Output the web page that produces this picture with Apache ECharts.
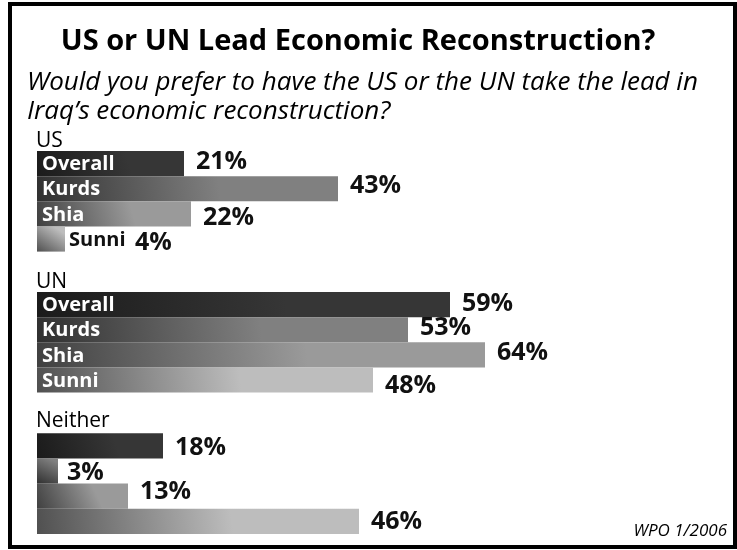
<!DOCTYPE html>
<html>
<head>
<meta charset="utf-8">
<script src="https://cdn.jsdelivr.net/npm/echarts@6/dist/echarts.min.js"></script>
<style>
html,body{margin:0;padding:0;background:#fff;}
#c{width:737px;height:550px;}
</style>
</head>
<body>
<div id="c"></div>
<script>
// ---- data ----
var groups = ['US', 'UN', 'Neither'];
var segments = ['Overall', 'Kurds', 'Shia', 'Sunni'];
var usValues = [21, 43, 22, 4];
var unValues = [59, 53, 64, 48];
var neitherValues = [18, 3, 13, 46];
var showSegmentNames = [true, true, false];
var title = 'US or UN Lead Economic Reconstruction?';
var subtitle1 = 'Would you prefer to have the US or the UN take the lead in';
var subtitle2 = 'Iraq\u2019s economic reconstruction?';
var sourceNote = 'WPO 1/2006';

// ---- styles ----
var FONT = "'Open Sans', sans-serif";
var segColors = [
  ['#1b1b1b', '#363636'],
  ['#303030', '#808080'],
  ['#404040', '#9a9a9a'],
  ['#505050', '#bdbdbd']
];
// small vertical nudges of value labels (px), per group / row
var labelNudge = [[-2, -3, 4, 4], [-1, -2, -2, 6], [2, 2, -4, 1]];
function grad(i) {
  return new echarts.graphic.LinearGradient(0, 1, 0.6, 0, [
    {offset: 0, color: segColors[i][0]},
    {offset: 1, color: segColors[i][1]}
  ]);
}
var allValues = [usValues, unValues, neitherValues];
var gridTops = [151, 292, 433.3];
var gridH = 100.6;

var grids = [], xAxes = [], yAxes = [], series = [];
allValues.forEach(function (vals, g) {
  grids.push({left: 37, top: gridTops[g], width: 704, height: gridH});
  xAxes.push({type: 'value', gridIndex: g, min: 0, max: 100, show: false});
  yAxes.push({type: 'category', gridIndex: g, data: segments, inverse: true, show: false});
  series.push({
    type: 'bar', xAxisIndex: g, yAxisIndex: g, barCategoryGap: '0%', barGap: '-100%',
    silent: true, animation: false,
    data: vals.map(function (v, i) {
      var small = v < 8;
      return {
        value: v,
        itemStyle: {color: grad(i)},
        label: {
          show: showSegmentNames[g],
          formatter: segments[i],
          position: small ? 'right' : 'insideLeft',
          distance: small ? 4 : 5,
          offset: [0, 1],
          color: small ? '#111' : '#fff',
          fontFamily: FONT, fontWeight: 'bold', fontSize: 20
        }
      };
    })
  });
  series.push({
    type: 'bar', xAxisIndex: g, yAxisIndex: g, barCategoryGap: '0%', barGap: '-100%',
    silent: true, animation: false,
    itemStyle: {color: 'rgba(0,0,0,0)'},
    data: vals.map(function (v, i) {
      var small = v < 8;
      return {
        value: v,
        label: {
          show: true,
          position: 'right',
          distance: (small && showSegmentNames[g]) ? 70 : (small ? 9 : 12),
          offset: [0, labelNudge[g][i]],
          formatter: v + '%',
          color: '#111',
          fontFamily: FONT, fontWeight: 'bold', fontSize: 25
        }
      };
    })
  });
});

var graphics = [
  {type: 'rect', shape: {x: 10, y: 4, width: 725, height: 543},
   style: {fill: 'none', stroke: '#000', lineWidth: 4}, silent: true},
  {type: 'text', x: 358, y: 42, style: {text: title, font: "bold 29px " + FONT,
   fill: '#000', textAlign: 'center', textVerticalAlign: 'middle'}},
  {type: 'text', x: 27, y: 83, style: {text: subtitle1, font: "italic 26px " + FONT,
   fill: '#000', textAlign: 'left', textVerticalAlign: 'middle'}},
  {type: 'text', x: 27, y: 112, style: {text: subtitle2, font: "italic 26px " + FONT,
   fill: '#000', textAlign: 'left', textVerticalAlign: 'middle'}},
  {type: 'text', x: 727, y: 531, style: {text: sourceNote, font: "italic 17px " + FONT,
   fill: '#000', textAlign: 'right', textVerticalAlign: 'middle'}}
];
var groupLabelY = [141, 282, 421];
groups.forEach(function (name, g) {
  graphics.push({type: 'text', x: 36, y: groupLabelY[g], style: {text: name,
    font: "21px " + FONT, fill: '#000', textAlign: 'left', textVerticalAlign: 'middle'}});
});

var chart = echarts.init(document.getElementById('c'));
chart.setOption({
  animation: false,
  grid: grids, xAxis: xAxes, yAxis: yAxes, series: series, graphic: graphics
});
</script>
</body>
</html>
